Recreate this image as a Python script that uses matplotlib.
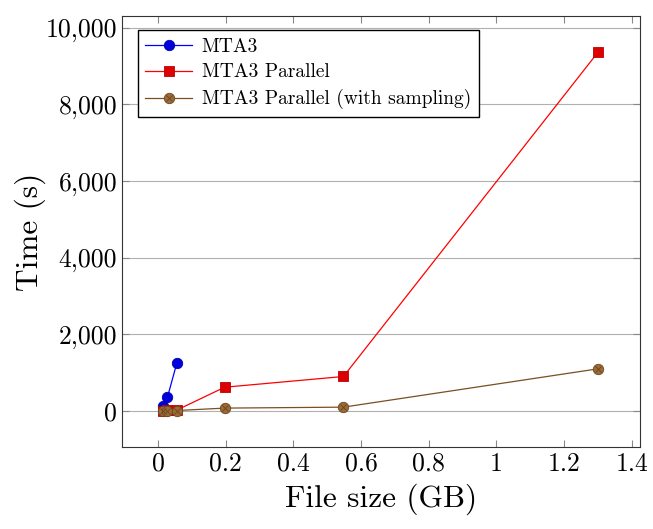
import matplotlib
matplotlib.use("Agg")
import matplotlib.pyplot as plt
from matplotlib.ticker import FuncFormatter, MultipleLocator
from matplotlib.legend_handler import HandlerTuple

plt.rcParams['font.family'] = ['cmr10', 'DejaVu Serif']
plt.rcParams['mathtext.fontset'] = 'cm'
plt.rcParams['axes.formatter.use_mathtext'] = True

# data (file size in GB, time in s)
mta3_x = [0.015, 0.028, 0.056]
mta3_y = [120, 360, 1260]
par_x = [0.015, 0.028, 0.056, 0.197, 0.548, 1.3]
par_y = [10, 15, 25, 620, 900, 9360]
samp_x = [0.015, 0.028, 0.056, 0.197, 0.548, 1.3]
samp_y = [5, 8, 12, 75, 100, 1100]

fig = plt.figure(figsize=(6.53, 5.29), dpi=100)
ax = fig.add_axes([0.187, 0.155, 0.793, 0.815])

brown = '#9B6A35'
h1, = ax.plot(mta3_x, mta3_y, color='blue', lw=0.9, marker='o', ms=7.5,
              mfc='#0000DD', mec='#0000AA', mew=0.6, zorder=3)
h2, = ax.plot(par_x, par_y, color='red', lw=0.9, marker='s', ms=7.5,
              mfc='#DD0000', mec='#BB0000', mew=0.6, zorder=3)
h3, = ax.plot(samp_x, samp_y, color='#7A4F22', lw=0.9, marker='o', ms=7.5,
              mfc=brown, mec='#6B4520', mew=0.6, zorder=4)
h3x, = ax.plot(samp_x, samp_y, ls='none', marker='x', ms=5,
               mec='#6B4520', mew=0.6, zorder=5)

ax.legend([h1, h2, (h3, h3x)],
          ['MTA3', 'MTA3 Parallel', 'MTA3 Parallel (with sampling)'],
          handler_map={tuple: HandlerTuple(ndivide=1, pad=0)},
          loc='upper left', bbox_to_anchor=(0.03, 0.967), fontsize=14,
          fancybox=False, edgecolor='black', framealpha=1,
          handlelength=2.4, handletextpad=0.5, borderpad=0.4,
          labelspacing=0.4, borderaxespad=0)

ax.set_xlim(-0.106, 1.424)
ax.set_ylim(-940, 10310)
ax.xaxis.set_major_locator(MultipleLocator(0.2))
ax.yaxis.set_major_locator(MultipleLocator(2000))
ax.xaxis.set_major_formatter(FuncFormatter(lambda v, p: f'{v:g}' if abs(v) > 1e-9 else '0'))
ax.yaxis.set_major_formatter(FuncFormatter(lambda v, p: f'{int(round(v)):,}'))
ax.grid(axis='y', color='#b0b0b0', lw=0.8)
ax.tick_params(direction='in', top=True, right=True, labelsize=18.5,
               length=5, color='#888888')
ax.set_xlabel('File size (GB)', fontsize=22.5, labelpad=6)
ax.set_ylabel('Time (s)', fontsize=22.5, labelpad=0)
for s in ax.spines.values():
    s.set_linewidth(0.8)
    s.set_color('#333333')

fig.savefig('out.png', dpi=100)
